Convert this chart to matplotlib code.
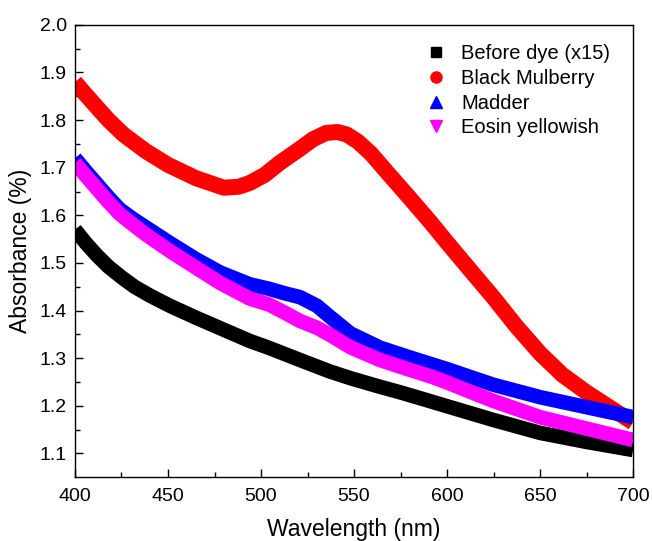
import numpy as np
import matplotlib
import matplotlib.pyplot as plt
from matplotlib.lines import Line2D

matplotlib.use("Agg")
plt.rcParams["font.family"] = ["Liberation Sans", "DejaVu Sans"]

# values (wavelength in nm, absorbance)
wl_black = [400, 406, 412, 418, 425, 432, 440, 451, 465, 478, 494, 504, 521, 537, 548,
            562, 575, 588, 600, 625, 650, 675, 700]
abs_black = [1.570, 1.541, 1.515, 1.492, 1.470, 1.450, 1.432, 1.410, 1.385, 1.363, 1.336,
             1.322, 1.296, 1.272, 1.258, 1.242, 1.228, 1.213, 1.199, 1.170, 1.143, 1.124,
             1.107]

wl_red = [400, 405, 410, 418, 426, 438, 450, 465, 480, 488, 494, 502, 510, 521, 528, 535,
          541, 546, 552, 559, 569, 580, 591, 600, 612, 625, 637, 650, 662, 675, 688, 700]
abs_red = [1.880, 1.857, 1.835, 1.800, 1.770, 1.735, 1.706, 1.678, 1.658, 1.660, 1.668,
           1.685, 1.710, 1.740, 1.760, 1.773, 1.775, 1.770, 1.755, 1.730, 1.685, 1.636,
           1.586, 1.543, 1.487, 1.427, 1.368, 1.310, 1.265, 1.228, 1.195, 1.165]

wl_dyes = [400, 406, 412, 418, 424, 431, 438, 451, 465, 478, 494, 504, 512, 521, 530, 537,
           548, 564, 578, 591, 600, 612, 625, 650, 675, 700]
abs_madder = [1.720, 1.692, 1.665, 1.638, 1.613, 1.593, 1.575, 1.542, 1.508, 1.480, 1.455,
              1.446, 1.437, 1.428, 1.410, 1.387, 1.352, 1.322, 1.304, 1.288, 1.277, 1.261,
              1.244, 1.218, 1.197, 1.176]
abs_eosin = [1.710, 1.682, 1.655, 1.628, 1.603, 1.581, 1.560, 1.525, 1.490, 1.458, 1.425,
             1.413, 1.397, 1.378, 1.364, 1.349, 1.323, 1.296, 1.278, 1.262, 1.249, 1.230,
             1.210, 1.176, 1.152, 1.128]

labels = ["Before dye (x15)", "Black Mulberry", "Madder", "Eosin yellowish"]
colors = ["black", "#ff0000", "#0000ff", "#ff00ff"]
markers = ["s", "o", "^", "v"]

fig = plt.figure(figsize=(6.52, 5.41), dpi=100)
ax = fig.add_axes([0.115, 0.118, 0.856, 0.836])

series = [
    (wl_black, abs_black, 10.5),
    (wl_red, abs_red, 11.5),
    (wl_dyes, abs_madder, 10.5),
    (wl_dyes, abs_eosin, 10.5),
]
for (x, y, lw), c in zip(series, colors):
    ax.plot(x, y, color=c, lw=lw, solid_capstyle="butt", solid_joinstyle="round")

handles = [
    Line2D([], [], ls="none", marker=m, color=c, markersize=ms)
    for m, c, ms in zip(markers, colors, [6.5, 8, 8, 8])
]
ax.legend(
    handles,
    labels,
    loc="upper left",
    bbox_to_anchor=(0.6, 0.997),
    frameon=False,
    fontsize=14.5,
    handlelength=0.8,
    handletextpad=0.85,
    labelspacing=0.28,
)

ax.set_xlim(400, 700)
ax.set_ylim(1.05, 2.0)
ax.set_xticks(np.arange(400, 701, 50))
ax.set_xticks(np.arange(425, 700, 50), minor=True)
ax.set_yticks(np.arange(1.1, 2.01, 0.1))
ax.set_yticks(np.arange(1.15, 2.0, 0.1), minor=True)
ax.yaxis.set_major_formatter(matplotlib.ticker.FormatStrFormatter("%.1f"))
ax.tick_params(which="major", direction="in", length=6, width=1, labelsize=14)
ax.tick_params(which="minor", direction="in", length=3.5, width=1)
ax.tick_params(axis="x", pad=8)
ax.tick_params(axis="y", pad=6)
for s in ax.spines.values():
    s.set_linewidth(1)

ax.set_xlabel("Wavelength (nm)", fontsize=16.5, labelpad=9)
ax.set_ylabel("Absorbance (%)", fontsize=16.5, labelpad=5)

fig.savefig("out.png", dpi=100)
